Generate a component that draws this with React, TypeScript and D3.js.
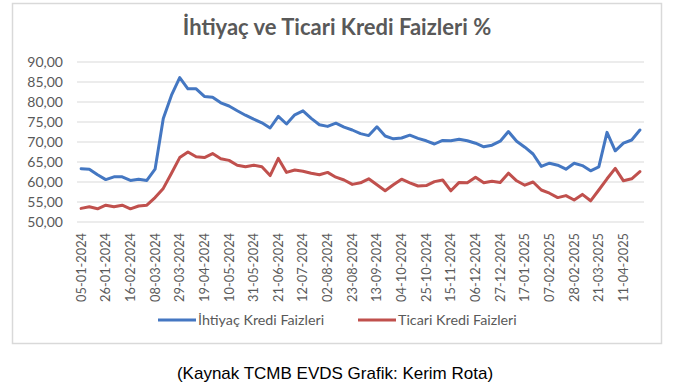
import React from "react";
import * as d3 from "d3";

const dates: string[] = [
  "05-01-2024","12-01-2024","19-01-2024","26-01-2024","02-02-2024","09-02-2024","16-02-2024","23-02-2024",
  "01-03-2024","08-03-2024","15-03-2024","22-03-2024","29-03-2024","05-04-2024","12-04-2024","19-04-2024",
  "26-04-2024","03-05-2024","10-05-2024","17-05-2024","24-05-2024","31-05-2024","07-06-2024","14-06-2024",
  "21-06-2024","28-06-2024","05-07-2024","12-07-2024","19-07-2024","26-07-2024","02-08-2024","09-08-2024",
  "16-08-2024","23-08-2024","30-08-2024","06-09-2024","13-09-2024","20-09-2024","27-09-2024","04-10-2024",
  "11-10-2024","18-10-2024","25-10-2024","01-11-2024","08-11-2024","15-11-2024","22-11-2024","29-11-2024",
  "06-12-2024","13-12-2024","20-12-2024","27-12-2024","03-01-2025","10-01-2025","17-01-2025","24-01-2025",
  "31-01-2025","07-02-2025","14-02-2025","21-02-2025","28-02-2025","07-03-2025","14-03-2025","21-03-2025",
  "28-03-2025","04-04-2025","11-04-2025","18-04-2025","25-04-2025"
];

const tickLabels: string[] = [
  "05-01-2024","26-01-2024","16-02-2024","08-03-2024","29-03-2024","19-04-2024","10-05-2024","31-05-2024",
  "21-06-2024","12-07-2024","02-08-2024","23-08-2024","13-09-2024","04-10-2024","25-10-2024","15-11-2024",
  "06-12-2024","27-12-2024","17-01-2025","07-02-2025","28-02-2025","21-03-2025","11-04-2025"
];

const ihtiyac: number[] = [
  63.3, 63.2, 61.8, 60.6, 61.3, 61.3, 60.4, 60.7, 60.4, 63.2,
  75.9, 81.7, 86.1, 83.3, 83.3, 81.4, 81.2, 79.8, 79.0, 77.8,
  76.7, 75.7, 74.8, 73.5, 76.4, 74.5, 76.8, 77.8, 75.9, 74.3,
  73.9, 74.7, 73.7, 73.0, 72.1, 71.6, 73.8, 71.5, 70.8, 71.0,
  71.7, 70.9, 70.3, 69.5, 70.4, 70.3, 70.7, 70.3, 69.7, 68.8,
  69.2, 70.2, 72.6, 70.2, 68.7, 67.0, 63.9, 64.7, 64.2, 63.2,
  64.7, 64.1, 62.8, 63.8, 72.4, 67.8, 69.7, 70.5, 73.0
];

const ticari: number[] = [
  53.4, 53.8, 53.3, 54.2, 53.8, 54.2, 53.3, 54.0, 54.2, 56.1,
  58.4, 62.2, 66.1, 67.5, 66.3, 66.1, 67.1, 65.8, 65.4, 64.2,
  63.8, 64.2, 63.8, 61.6, 65.9, 62.4, 63.0, 62.7, 62.2, 61.8,
  62.4, 61.2, 60.5, 59.4, 59.8, 60.8, 59.3, 57.8, 59.3, 60.7,
  59.8, 59.0, 59.1, 60.1, 60.5, 57.8, 59.9, 59.8, 61.2, 59.8,
  60.2, 59.9, 62.2, 60.3, 59.2, 60.0, 58.0, 57.2, 56.1, 56.6,
  55.5, 56.9, 55.3, 58.0, 60.8, 63.4, 60.3, 60.8, 62.6
];

const yTicks: number[] = [50, 55, 60, 65, 70, 75, 80, 85, 90];

const seriesNames: string[] = ["İhtiyaç Kredi Faizleri", "Ticari Kredi Faizleri"];
const seriesColors: string[] = ["#4477c2", "#c0504d"];

const title = "İhtiyaç ve Ticari Kredi Faizleri %";
const caption = "(Kaynak TCMB EVDS Grafik: Kerim Rota)";

export default function App() {
  const W = 673, H = 383;
  const x = d3.scaleBand<string>().domain(dates).range([77, 644]);
  const cx = (d: string) => (x(d) as number) + x.bandwidth() / 2;
  const y = d3.scaleLinear().domain([50, 90]).range([222, 62]);
  const fmt = (v: number) => v.toFixed(2).replace(".", ",");
  const line = d3.line<number>().x((_, i) => cx(dates[i])).y((v) => y(v));
  const font = "Lato, 'Open Sans', sans-serif";
  const grey = "#595959";
  const series = [ihtiyac, ticari];
  const legendX = [158, 358];

  return (
    <svg width={W} height={H} style={{ position: "absolute", left: 0, top: 0, background: "#fff" }}>
      <rect x={0} y={0} width={W} height={H} fill="#fff" />
      <rect x={12.5} y={3.5} width={649} height={340} fill="#fff" stroke="#d9d9d9" strokeWidth={1.5} />
      <text x={337} y={35} textAnchor="middle" fontFamily={font} fontWeight={700} fontSize={22} fill={grey}>
        {title}
      </text>
      {yTicks.map((t) => (
        <g key={t}>
          <line x1={77} x2={644} y1={y(t)} y2={y(t)} stroke="#d9d9d9" strokeWidth={1.2} />
          <text x={63} y={y(t)} dy="0.35em" textAnchor="end" fontFamily={font} fontSize={14} fill={grey}>
            {fmt(t)}
          </text>
        </g>
      ))}
      {tickLabels.map((d) => (
        <text
          key={d}
          transform={`translate(${cx(d)},233) rotate(-90)`}
          textAnchor="end"
          dy="0.35em"
          fontFamily={font}
          fontSize={12.8}
          fill={grey}
        >
          {d}
        </text>
      ))}
      {series.map((s, k) => (
        <path key={k} d={line(s) || ""} fill="none" stroke={seriesColors[k]} strokeWidth={3} strokeLinejoin="round" strokeLinecap="round" />
      ))}
      {seriesNames.map((n, k) => (
        <g key={n}>
          <line x1={legendX[k]} x2={legendX[k] + 38} y1={320} y2={320} stroke={seriesColors[k]} strokeWidth={3} />
          <text x={legendX[k] + 40} y={320} dy="0.35em" fontFamily={font} fontSize={14.3} fill={grey}>
            {n}
          </text>
        </g>
      ))}
      <text x={335} y={373} dy="0.35em" textAnchor="middle" fontFamily="'Liberation Sans', Arial, sans-serif" fontSize={17} fill="#000">
        {caption}
      </text>
    </svg>
  );
}
